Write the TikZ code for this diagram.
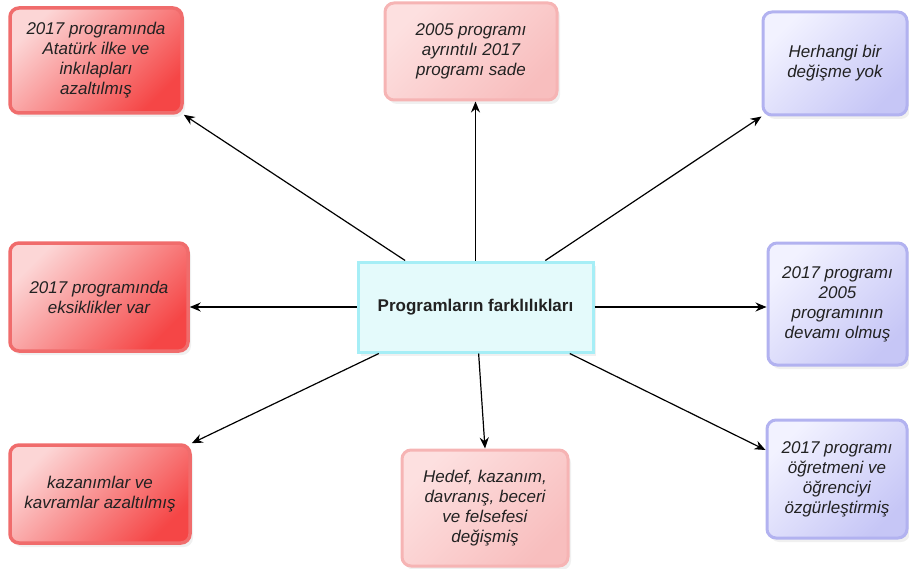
\documentclass[tikz,border=0pt]{standalone}
\usepackage{fontspec}
\newfontfamily\arialfont{Liberation Sans}
\usetikzlibrary{shadows,arrows.meta}
\definecolor{redline}{RGB}{240,108,108}
\definecolor{redlight}{RGB}{252,214,214}
\definecolor{reddark}{RGB}{245,70,70}
\definecolor{pinkline}{RGB}{246,180,180}
\definecolor{pinklight}{RGB}{253,224,224}
\definecolor{pinkdark}{RGB}{248,190,190}
\definecolor{blueline}{RGB}{178,178,240}
\definecolor{bluelight}{RGB}{242,242,255}
\definecolor{bluedark}{RGB}{198,198,246}
\definecolor{cyanline}{RGB}{166,238,246}
\definecolor{cyanfill}{RGB}{228,250,251}
\definecolor{txt}{RGB}{34,34,34}
\tikzset{
  box/.style={draw,rounded corners=9pt,align=center,text=txt,
    font=\arialfont\itshape\fontsize{17}{20}\selectfont,
    drop shadow={shadow xshift=3pt,shadow yshift=-4pt,opacity=.12}},
  redbox/.style={box,draw=redline,line width=3.5pt,
    top color=redlight,bottom color=reddark,shading angle=45},
  pinkbox/.style={box,draw=pinkline,line width=3pt,
    top color=pinklight,bottom color=pinkdark,shading angle=45},
  bluebox/.style={box,draw=blueline,line width=3pt,
    top color=bluelight,bottom color=bluedark,shading angle=45},
  arr/.style={->,>={Stealth[length=11pt,width=9pt]},line width=1.2pt,black}
}
\begin{document}
\begin{tikzpicture}[x=1pt,y=-1pt]
\useasboundingbox (0,0) rectangle (909,569);
% center
\node[draw=cyanline,fill=cyanfill,line width=3pt,minimum width=235pt,minimum height=90pt,
  font=\arialfont\bfseries\fontsize{17}{20}\selectfont,text=txt,
  drop shadow={shadow xshift=3pt,shadow yshift=-4pt,opacity=.12}]
  (fark) at (475.5,307) {Programların farklılıkları};
% boxes
\node[redbox,minimum width=172pt,minimum height=105pt] (ilke) at (96,60.5)
  {2017 programında\\Atatürk ilke ve\\inkılapları\\azaltılmış};
\node[pinkbox,minimum width=172pt,minimum height=97pt] (sade) at (471,51.5)
  {2005 programı\\ayrıntılı 2017\\programı sade};
\node[bluebox,minimum width=144pt,minimum height=103pt] (yok) at (835,63.5)
  {Herhangi bir\\değişme yok};
\node[redbox,minimum width=178pt,minimum height=108pt] (eksik) at (99,297)
  {2017 programında\\eksiklikler var};
\node[bluebox,minimum width=139pt,minimum height=122pt] (devam) at (837.5,304)
  {2017 programı\\2005\\programının\\devamı olmuş};
\node[redbox,minimum width=180pt,minimum height=98pt] (kaz) at (100,494)
  {kazanımlar ve\\kavramlar azaltılmış};
\node[pinkbox,minimum width=166pt,minimum height=116pt] (hedef) at (485,508)
  {Hedef, kazanım,\\davranış, beceri\\ve felsefesi\\değişmiş};
\node[bluebox,minimum width=140pt,minimum height=118pt] (ozgur) at (837,479)
  {2017 programı\\öğretmeni ve\\öğrenciyi\\özgürleştirmiş};
% arrows
\draw[arr] (fark) -- (ilke.south east);
\draw[arr] (fark.north) -- (fark.north |- sade.south);
\draw[arr] (fark) -- (yok.south west);
\draw[arr] (fark.west) -- (fark.west -| eksik.east);
\draw[arr] (fark.east) -- (fark.east -| devam.west);
\draw[arr] (fark) -- (kaz.north east);
\draw[arr] (fark) -- (hedef.north);
\draw[arr] (fark) -- ([yshift=29pt]ozgur.west);
\end{tikzpicture}
\end{document}
